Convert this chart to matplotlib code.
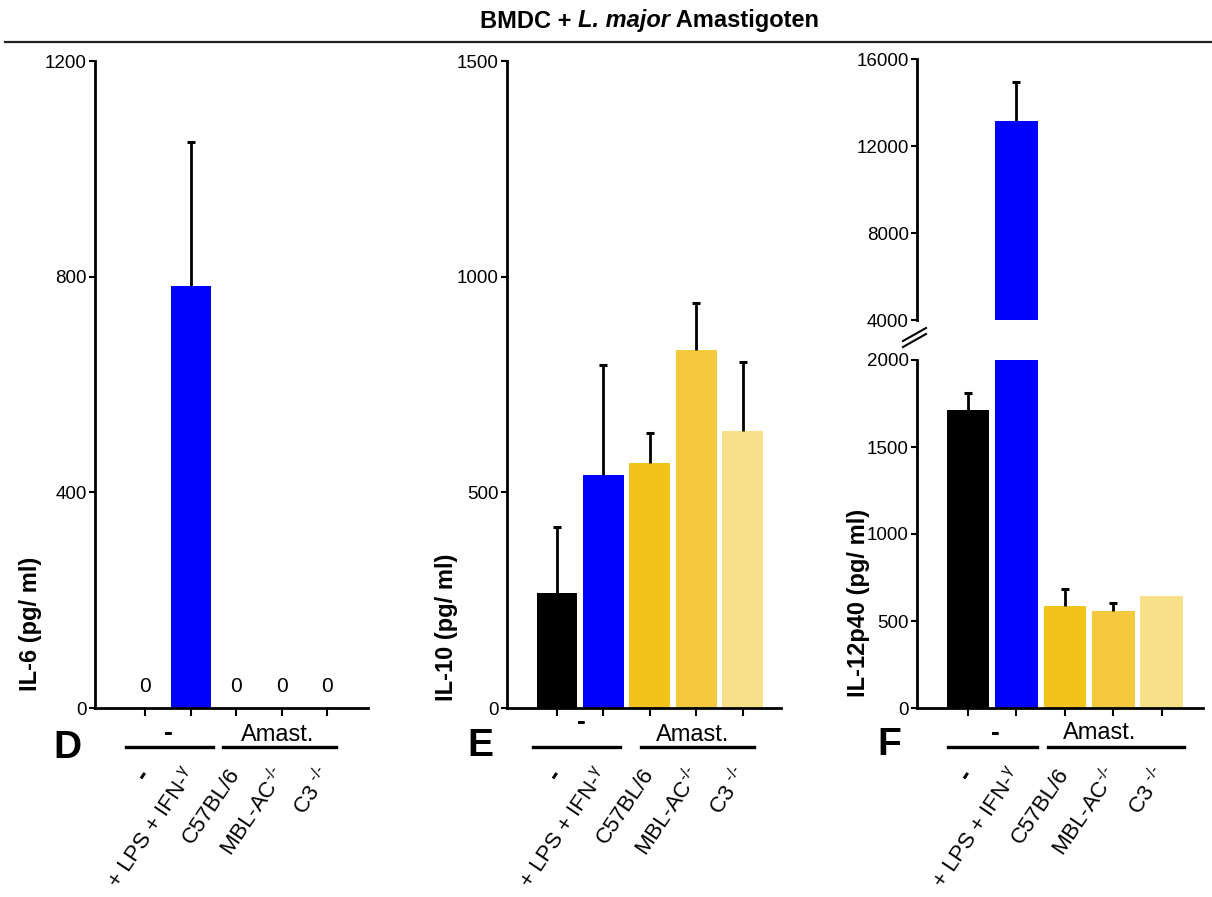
import matplotlib
matplotlib.use("Agg")
import matplotlib.pyplot as plt
from matplotlib.lines import Line2D

plt.rcParams['font.family'] = ['Liberation Sans', 'DejaVu Sans']
plt.rcParams['mathtext.fontset'] = 'custom'
plt.rcParams['mathtext.rm'] = 'Liberation Sans'
plt.rcParams['mathtext.it'] = 'Liberation Sans:italic'
plt.rcParams['mathtext.bf'] = 'Liberation Sans:bold'

# ---------------- data ----------------
categories = ["-", "+ LPS + IFN-$^{\\mathrm{\\gamma}}$", "C57BL/6",
              "MBL-AC$^{\\text{-/-}}$", "C3 $^{\\text{-/-}}$"]
colors = ["#000000", "#0000FF", "#F2C41B", "#F4C93E", "#F8E08A"]

il6_mean = [0, 783, 0, 0, 0]
il6_err = [0, 267, 0, 0, 0]

il10_mean = [266, 540, 568, 830, 642]
il10_err = [154, 255, 70, 109, 161]

il12_mean = [1713, 13150, 586, 557, 644]
il12_err = [97, 1780, 100, 48, 0]

il6_ticks = [0, 400, 800, 1200]
il10_ticks = [0, 500, 1000, 1500]
il12_low_ticks = [0, 500, 1000, 1500, 2000]
il12_high_ticks = [4000, 8000, 12000, 16000]

# ---------------- figure ----------------
W, H = 1212, 897
fig = plt.figure(figsize=(W / 100, H / 100), dpi=100)


def rect(l, t, r, b):
    return [l / W, 1 - b / H, (r - l) / W, (b - t) / H]


def fx(x):
    return x / W


def fy(y):
    return 1 - y / H


xs = list(range(len(categories)))
BW = 0.88


def style_axis(ax, ticks, ylim, xlim, show_x=True):
    ax.set_ylim(*ylim)
    ax.set_xlim(*xlim)
    ax.set_yticks(ticks)
    ax.set_yticklabels([str(t) for t in ticks])
    for s in ['top', 'right']:
        ax.spines[s].set_visible(False)
    ax.spines['left'].set_linewidth(2.0)
    ax.spines['bottom'].set_linewidth(2.0)
    ax.tick_params(axis='y', direction='out', length=4, width=1.5,
                   labelsize=13.5, pad=2)
    if show_x:
        ax.set_xticks(xs)
        ax.set_xticklabels(categories, rotation=56, ha='right', va='center',
                           rotation_mode='anchor', fontsize=16)
        ax.tick_params(axis='x', direction='out', length=6, width=1.5, pad=39)
        ax.get_xticklabels()[0].set_fontweight('bold')
        ax.get_xticklabels()[0].set_fontsize(19)
    else:
        ax.spines['bottom'].set_visible(False)
        ax.set_xticks([])


def draw_bars(ax, mean, err):
    ax.bar(xs, mean, width=BW, color=colors, edgecolor='none', zorder=2)
    for x, m, e in zip(xs, mean, err):
        if e > 0:
            ax.vlines(x, m, m + e, colors='black', lw=2, zorder=3)
            ax.plot([x], [m + e], marker='_', markersize=6, mew=2.2,
                    color='black', zorder=3)


# Panel D
axD = fig.add_axes(rect(95, 61, 368, 708))
draw_bars(axD, il6_mean, il6_err)
style_axis(axD, il6_ticks, (0, 1200), (-1.10, 4.90))
for i, v in enumerate(il6_mean):
    if v == 0:
        axD.annotate("0", (i, 0), xytext=(0, 9), textcoords='offset points',
                     ha='center', va='bottom', fontsize=15)

# Panel E
axE = fig.add_axes(rect(507, 61, 781, 708))
draw_bars(axE, il10_mean, il10_err)
style_axis(axE, il10_ticks, (0, 1500), (-1.075, 4.82))

# Panel F (broken axis)
axF = fig.add_axes(rect(917, 360, 1203, 708))
draw_bars(axF, il12_mean, il12_err)
style_axis(axF, il12_low_ticks, (0, 2000), (-1.05, 4.85))
axF2 = fig.add_axes(rect(917, 59, 1203, 320))
draw_bars(axF2, il12_mean, il12_err)
style_axis(axF2, il12_high_ticks, (4000, 16000), (-1.05, 4.85), show_x=False)

# break marks
for dy in (0, 6):
    fig.add_artist(Line2D([fx(903), fx(926)], [fy(347 - dy), fy(334 - dy)],
                          color='black', lw=1.5))

# y labels
fig.text(fx(30), fy(624), "IL-6 (pg/ ml)", rotation=90, ha='center',
         va='center', fontsize=17, fontweight='bold')
fig.text(fx(447), fy(627), "IL-10 (pg/ ml)", rotation=90, ha='center',
         va='center', fontsize=17, fontweight='bold')
fig.text(fx(859), fy(603), "IL-12p40 (pg/ ml)", rotation=90, ha='center',
         va='center', fontsize=17, fontweight='bold')

# group annotations
groups = [
    # letter pos, dash pos, line1, line2, amast pos
    ("D", (67, 748), (168, 733), (126, 213), (223, 336), (278, 735)),
    ("E", (480, 746), (581, 722), (533, 620), (641, 754), (693, 735)),
    ("F", (889, 745), (995, 733), (948, 1037), (1048, 1184), (1100, 733)),
]
for letter, lp, dp, l1, l2, ap in groups:
    fig.text(fx(lp[0]), fy(lp[1]), letter, ha='center', va='center',
             fontsize=28, fontweight='bold')
    fig.text(fx(dp[0]), fy(dp[1]), "-", ha='center', va='center',
             fontsize=19, fontweight='bold')
    for a, b in (l1, l2):
        fig.add_artist(Line2D([fx(a), fx(b)], [fy(747), fy(747)],
                              color='black', lw=2.4))
    fig.text(fx(ap[0]), fy(ap[1]), "Amast.", ha='center', va='center',
             fontsize=17)

# title
TFS = 17
t1 = fig.text(fx(480), fy(21), "BMDC + ", ha='left', va='center',
              fontsize=TFS, fontweight='bold')
t2 = fig.add_artist(matplotlib.text.Annotation(
    "L. major", xy=(1, 0), xycoords=t1, ha='left', va='bottom',
    fontsize=TFS, fontweight='bold', fontstyle='italic'))
t3 = fig.add_artist(matplotlib.text.Annotation(
    " Amastigoten", xy=(1, 0), xycoords=t2, ha='left', va='bottom',
    fontsize=TFS, fontweight='bold'))
fig.add_artist(Line2D([fx(5), fx(1212)], [fy(42), fy(42)], color='#222222',
                      lw=1.6))

fig.savefig("out.png", dpi=100)
